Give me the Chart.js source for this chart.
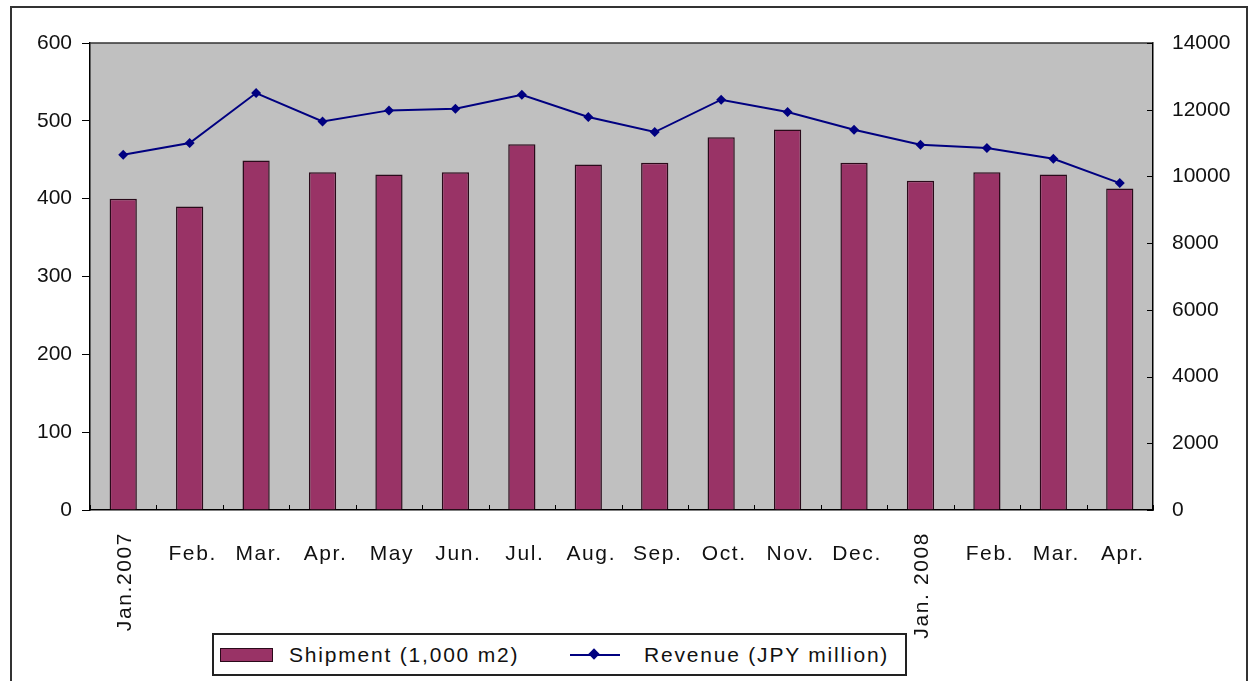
<!DOCTYPE html>
<html>
<head>
<meta charset="utf-8">
<script src="https://cdn.jsdelivr.net/npm/chart.js@4.4.0/dist/chart.umd.min.js"></script>
<style>
  body{margin:0;background:#fff;font-family:"Liberation Sans",Arial,sans-serif;}
  #wrap{position:relative;width:1256px;height:681px;overflow:hidden;}
  #frame{position:absolute;left:10px;top:6px;width:1238px;height:720px;border:2px solid #333;box-sizing:border-box;}
  #chart{position:absolute;left:0;top:0;}
  #legend{position:absolute;left:212px;top:633px;width:695px;height:43px;border:2px solid #222;box-sizing:border-box;background:#fff;
    font-size:21px;letter-spacing:1.8px;color:#111;}
  #legend .sw{position:absolute;left:6px;top:13px;width:53px;height:14px;background:#993366;border:1.5px solid #2a0a1a;box-sizing:border-box;}
  #legend .ln{position:absolute;left:356px;top:19px;width:50px;height:2px;background:#000080;}
  #legend .dm{position:absolute;left:376px;top:15px;width:8px;height:8px;background:#000080;transform:rotate(45deg);}
  #legend .t{position:absolute;top:7px;line-height:26px;white-space:nowrap;}
</style>
</head>
<body>
<div id="wrap">
  <div id="frame"></div>
  <canvas id="chart" width="1256" height="681"></canvas>
  <div id="legend">
    <div class="sw"></div><div class="t" style="left:75px">Shipment (1,000 m2)</div>
    <div class="ln"></div><div class="dm"></div><div class="t" style="left:430px">Revenue (JPY million)</div>
  </div>
</div>
<script>
const months = ["Jan.2007","Feb.","Mar.","Apr.","May","Jun.","Jul.","Aug.","Sep.","Oct.","Nov.","Dec.","Jan. 2008","Feb.","Mar.","Apr."];
const rotatedLabels = ["Jan.2007","Jan. 2008"];
const shipment = [400,390,449,434,431,434,470,444,446,479,489,446,423,434,431,413];
const revenue = [10650,11000,12500,11650,11980,12030,12450,11780,11330,12300,11930,11400,10950,10850,10530,9800];

const plotBg = {
  id:"plotBg",
  beforeDraw(chart){
    const {ctx,chartArea:a}=chart;
    ctx.save();
    ctx.fillStyle="#c0c0c0";
    ctx.fillRect(a.left,a.top,a.right-a.left,a.bottom-a.top);
    ctx.restore();
  },
  afterDraw(chart){
    const {ctx,chartArea:a}=chart;
    const x=chart.scales.x, y1=chart.scales.y1;
    ctx.save();
    // top border
    ctx.strokeStyle="#333";ctx.lineWidth=1.5;
    ctx.beginPath();ctx.moveTo(a.left,a.top);ctx.lineTo(a.right,a.top);ctx.stroke();
    // x ticks between categories (inward)
    ctx.strokeStyle="#000";ctx.lineWidth=1;
    const step=x.getPixelForValue(1)-x.getPixelForValue(0);
    for(let i=0;i<=months.length;i++){
      const px=Math.round(x.getPixelForValue(0)-step/2+i*step)+0.5;
      ctx.beginPath();ctx.moveTo(px,a.bottom);ctx.lineTo(px,a.bottom-5);ctx.stroke();
    }
    // right axis ticks (inward)
    y1.ticks.forEach((t,i)=>{
      const py=Math.round(y1.getPixelForTick(i))+0.5;
      ctx.beginPath();ctx.moveTo(a.right,py);ctx.lineTo(a.right-6,py);ctx.stroke();
    });
    // x labels
    ctx.fillStyle="#111";
    ctx.font="21px 'Liberation Sans', Arial, sans-serif";
    ctx.letterSpacing="1.6px";
    months.forEach((m,i)=>{
      const px=x.getPixelForValue(i);
      if(rotatedLabels.includes(m)){
        ctx.save();
        ctx.translate(px+2,a.bottom+22);
        ctx.rotate(-Math.PI/2);
        ctx.textAlign="right";ctx.textBaseline="middle";
        ctx.fillText(m,0,0);
        ctx.restore();
      }else{
        ctx.textAlign="center";ctx.textBaseline="middle";
        ctx.fillText(m,px+3,a.bottom+44);
      }
    });
    ctx.restore();
  }
};

const tickFont={family:"'Liberation Sans', Arial, sans-serif",size:21};

new Chart(document.getElementById("chart"),{
  data:{
    labels:months,
    datasets:[
      {type:"line",label:"Revenue (JPY million)",data:revenue,yAxisID:"y1",order:0,
       borderColor:"#000080",backgroundColor:"#000080",borderWidth:2,
       pointStyle:"rectRot",pointRadius:5,pointBorderWidth:0,tension:0},
      {type:"bar",label:"Shipment (1,000 m2)",data:shipment,yAxisID:"y",order:1,
       backgroundColor:"#993366",borderColor:"#2a0a1a",borderWidth:1.5,
       barPercentage:0.41,categoryPercentage:1}
    ]
  },
  options:{
    responsive:false,animation:false,
    layout:{padding:{top:43,left:0,right:0,bottom:0}},
    plugins:{legend:{display:false},tooltip:{enabled:false}},
    scales:{
      x:{offset:true,grid:{display:false},border:{display:true,color:"#000",width:1.5},
         ticks:{display:false},afterFit(s){s.width=s.width;s.height=171;}},
      y:{position:"left",min:0,max:600,
         ticks:{stepSize:100,color:"#111",font:tickFont,padding:10,callback:v=>String(v)},
         grid:{drawOnChartArea:false,drawTicks:true,tickLength:8,color:"#000"},
         border:{display:true,color:"#000",width:1.5},
         afterFit(s){s.width=90;}},
      y1:{position:"right",min:0,max:14000,
         ticks:{stepSize:2000,color:"#111",font:tickFont,padding:19,callback:v=>String(v)},
         grid:{drawOnChartArea:false,drawTicks:false},
         border:{display:true,color:"#000",width:1.5},
         afterFit(s){s.width=103;}}
    }
  },
  plugins:[plotBg]
});
</script>
</body>
</html>
